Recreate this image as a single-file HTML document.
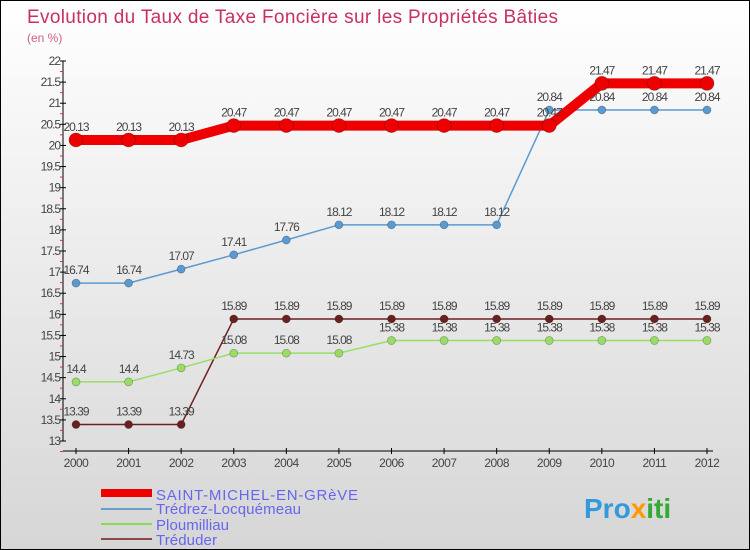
<!DOCTYPE html>
<html><head><meta charset="utf-8"><style>
body{margin:0;}
#wrap{width:748px;height:548px;border:1px solid #000;background:linear-gradient(#ffffff,#d6d6d6);position:relative;overflow:hidden;font-family:"Liberation Sans",sans-serif;}
</style></head><body>
<div id="wrap">
<svg id="chart" width="748" height="548">
<text x="26" y="22" font-size="19" fill="#c8305e" font-family="Liberation Sans" textLength="531">Evolution du Taux de Taxe Foncière sur les Propriétés Bâties</text>
<text x="26" y="41" font-size="12" fill="#d06080">(en %)</text>
<g id="axes"></g><g id="series"></g>
<g>
<rect x="100" y="488" width="51" height="8" fill="#ee0000"/>
<text x="155" y="499" font-size="15" fill="#6666ee" textLength="202">SAINT-MICHEL-EN-GRèVE</text>
<rect x="100" y="507" width="51" height="2" fill="#6a9ccc"/>
<text x="155" y="513" font-size="15" fill="#6666ee" textLength="145">Trédrez-Locquémeau</text>
<rect x="100" y="522" width="51" height="2" fill="#88dd55"/>
<text x="155" y="529" font-size="15" fill="#6666ee" textLength="73">Ploumilliau</text>
<rect x="100" y="537" width="51" height="2" fill="#8a4a4a"/>
<text x="155" y="544" font-size="15" fill="#6666ee" textLength="61">Tréduder</text>
</g>
<text x="583" y="517" font-size="28" font-weight="bold" fill="#3399dd">Pro<tspan fill="#ff9900">x</tspan><tspan fill="#33aa33">iti</tspan></text>
</svg>
</div>
<script>
const years=[2000,2001,2002,2003,2004,2005,2006,2007,2008,2009,2010,2011,2012];
const yTicks=[13,13.5,14,14.5,15,15.5,16,16.5,17,17.5,18,18.5,19,19.5,20,20.5,21,21.5,22];
const saintMichel=[20.13,20.13,20.13,20.47,20.47,20.47,20.47,20.47,20.47,20.47,21.47,21.47,21.47];
const tredrez=[16.74,16.74,17.07,17.41,17.76,18.12,18.12,18.12,18.12,20.84,20.84,20.84,20.84];
const ploumilliau=[14.4,14.4,14.73,15.08,15.08,15.08,15.38,15.38,15.38,15.38,15.38,15.38,15.38];
const treduder=[13.39,13.39,13.39,15.89,15.89,15.89,15.89,15.89,15.89,15.89,15.89,15.89,15.89];
const NS="http://www.w3.org/2000/svg";
function xS(i){return 75+i*(706-75)/(years.length-1);}
function yS(v){return 440-(v-13)*(440-60)/9;}
function mk(tag,at,parent){const e=document.createElementNS(NS,tag);for(const k in at)e.setAttribute(k,at[k]);parent.appendChild(e);return e;}
const ax=document.getElementById('axes');
let a=mk('line',{x1:62,y1:60,x2:62,y2:440,stroke:'#000','stroke-width':1},ax);


a=mk('line',{x1:62,y1:450,x2:712,y2:450,stroke:'#000','stroke-width':1},ax);


yTicks.forEach(v=>{const y=yS(v);
 mk('line',{x1:59,y1:y,x2:65,y2:y,stroke:'#000'},ax);
 mk('line',{x1:59,y1:y+10.5,x2:62,y2:y+10.5,stroke:'#e03030'},ax);
 const t=mk('text',{x:59,y:y+4,'font-size':12,'text-anchor':'end',fill:'#444','letter-spacing':'-1'},ax);t.textContent=String(v);
 
 });
years.forEach((yr,i)=>{const x=xS(i);
 mk('line',{x1:x,y1:447,x2:x,y2:453,stroke:'#000'},ax);
 const t=mk('text',{x:x,y:466,'font-size':12,'text-anchor':'middle',fill:'#444','letter-spacing':'-0.5'},ax);t.textContent=String(yr);
 
 });
const sg=document.getElementById('series');
function draw(vals,color,lw,r,name){
 const g=mk('g',{},sg);
 
 
 const pl=mk('polyline',{points:vals.map((v,i)=>xS(i)+','+yS(v)).join(' '),fill:'none',stroke:color,'stroke-width':lw},g);
 
 
 vals.forEach((v,i)=>{const c=mk('circle',{cx:xS(i),cy:yS(v),r:r,fill:color,stroke:'rgba(0,0,0,0.3)','stroke-width':0.7},g);
  
  
  const t=mk('text',{x:xS(i),y:yS(v)-9,'font-size':12,'text-anchor':'middle',fill:'#444','letter-spacing':'-1'},g);t.textContent=String(v);
  
  });
}
draw(treduder,'#6b2020',1.5,4,'series-treduder');
draw(ploumilliau,'#99dd66',1.5,4,'series-ploumilliau');
draw(tredrez,'#5a9ad0',1.5,4,'series-tredrez');
draw(saintMichel,'#ee0000',10,7,'series-saint-michel');
</script>
</body></html>
